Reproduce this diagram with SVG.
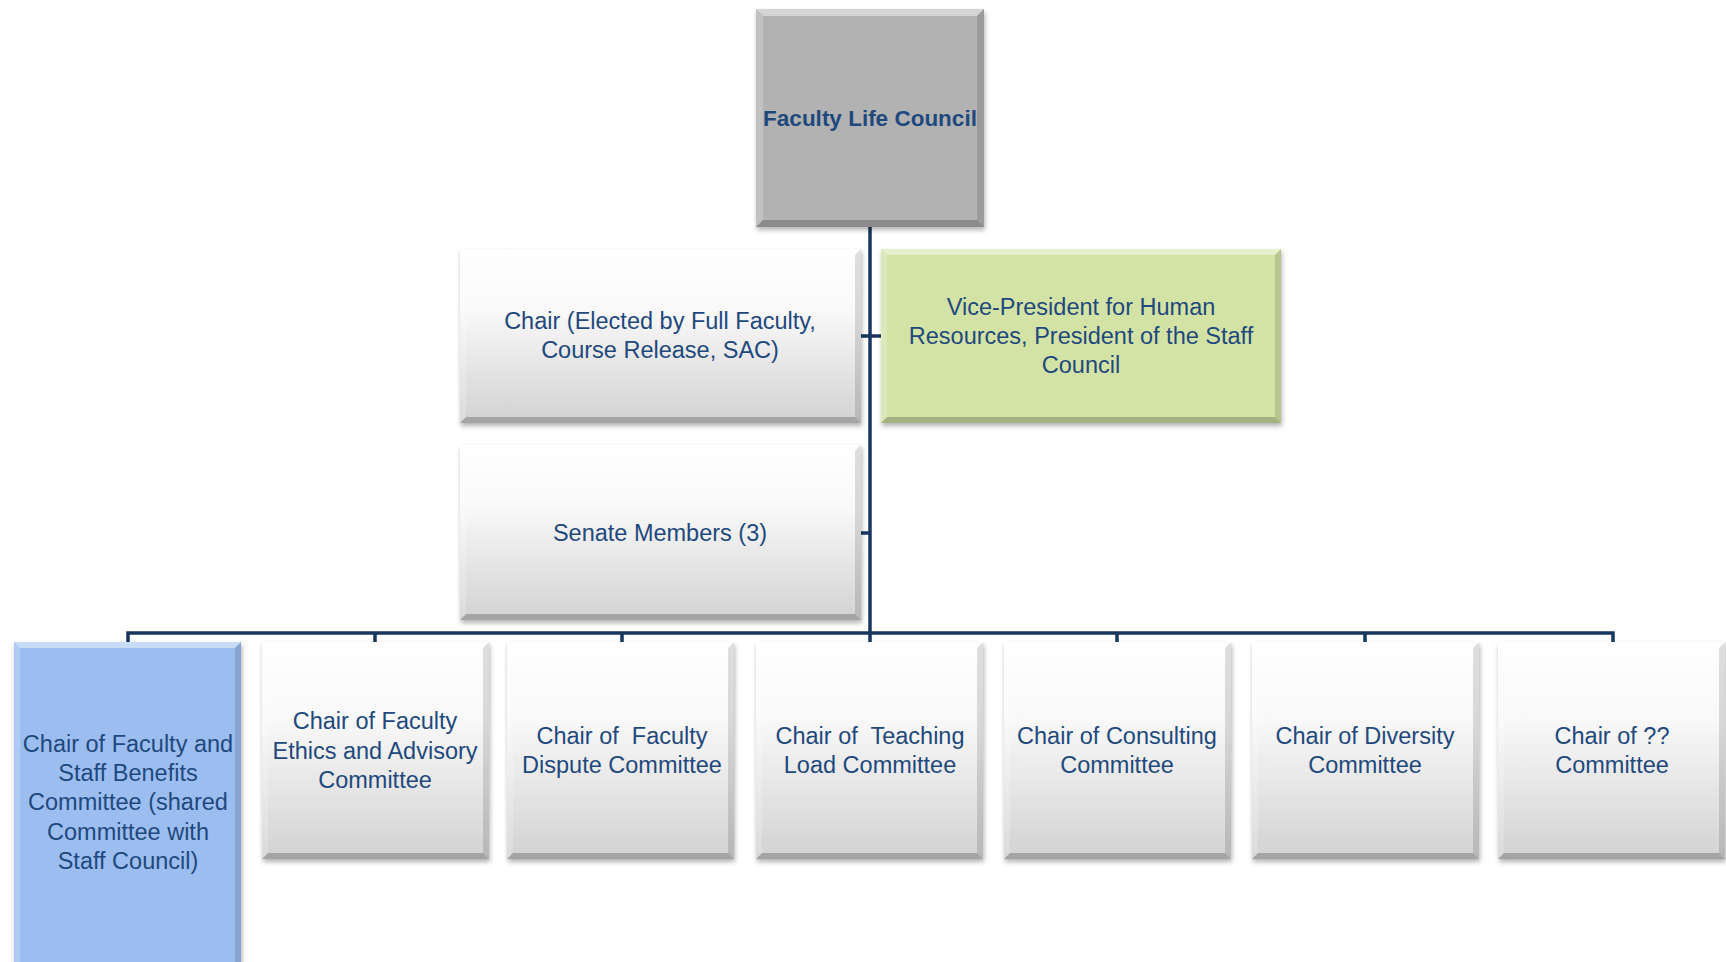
<svg xmlns="http://www.w3.org/2000/svg" width="1726" height="962" viewBox="0 0 1726 962">
<defs>
<linearGradient id="gGray" x1="0" y1="0" x2="0" y2="1">
<stop offset="0" stop-color="#ffffff"/>
<stop offset="0.35" stop-color="#f9f9f9"/>
<stop offset="1" stop-color="#d2d2d2"/>
</linearGradient>
<filter id="sh" x="-10%" y="-10%" width="120%" height="120%">
<feDropShadow dx="1" dy="3" stdDeviation="2.5" flood-color="#000" flood-opacity="0.3"/>
</filter>
</defs>
<style>
.gray{fill:url(#gGray)}
.flc{fill:#b2b2b2}
.vp{fill:#d3e3a5}
.blue{fill:#9bbdf0}
.bt{fill:#ffffff;opacity:.45}
.bb{fill:#000000;opacity:.22}
.bl{fill:#ffffff;opacity:.2}
.br{fill:#000000;opacity:.13}
.t{font-family:"Liberation Sans",Arial,sans-serif;font-size:23.5px;fill:#1f497d;text-anchor:middle}
.tb{font-family:"Liberation Sans",Arial,sans-serif;font-size:22.5px;font-weight:bold;fill:#1f497d;text-anchor:middle}
.c{fill:none;stroke:#17375e;stroke-width:3.5}
</style>
<rect width="1726" height="962" fill="#ffffff"/>

<g id="connectors">
<path class="c" d="M870 227 V635"/>
<path class="c" d="M128 642 V633 H1613 V642"/>
<path class="c" d="M375 633 V642 M622 633 V642 M870 633 V642 M1117 633 V642 M1365 633 V642"/>
<path class="c" d="M861 336 H881"/>
<path class="c" d="M861 533 H870"/>
</g>

<g id="faculty-life-council">
<rect class="flc" x="756" y="9" width="228" height="218" filter="url(#sh)"/>
<polygon class="bt" points="756,9 984,9 977,16 763,16"/>
<polygon class="bb" points="756,227 984,227 977,220 763,220"/>
<polygon class="bl" points="756,9 763,16 763,220 756,227"/>
<polygon class="br" points="984,9 977,16 977,220 984,227"/>
<text class="tb" x="870" y="126">Faculty Life Council</text>
</g>

<g id="chair">
<rect class="gray" x="460" y="249" width="401" height="174" filter="url(#sh)"/>
<polygon class="bt" points="460,249 861,249 855,255 466,255"/>
<polygon class="bb" points="460,423 861,423 855,417 466,417"/>
<polygon class="bl" points="460,249 466,255 466,417 460,423"/>
<polygon class="br" points="861,249 855,255 855,417 861,423"/>
<text class="t" x="660" y="329">Chair (Elected by Full Faculty,</text>
<text class="t" x="660" y="358">Course Release, SAC)</text>
</g>

<g id="vice-president">
<rect class="vp" x="881" y="249" width="400" height="174" filter="url(#sh)"/>
<polygon class="bt" points="881,249 1281,249 1275,255 887,255"/>
<polygon class="bb" points="881,423 1281,423 1275,417 887,417"/>
<polygon class="bl" points="881,249 887,255 887,417 881,423"/>
<polygon class="br" points="1281,249 1275,255 1275,417 1281,423"/>
<text class="t" x="1081" y="315">Vice-President for Human</text>
<text class="t" x="1081" y="344">Resources, President of the Staff</text>
<text class="t" x="1081" y="373">Council</text>
</g>

<g id="senate-members">
<rect class="gray" x="460" y="445" width="401" height="175" filter="url(#sh)"/>
<polygon class="bt" points="460,445 861,445 855,451 466,451"/>
<polygon class="bb" points="460,620 861,620 855,614 466,614"/>
<polygon class="bl" points="460,445 466,451 466,614 460,620"/>
<polygon class="br" points="861,445 855,451 855,614 861,620"/>
<text class="t" x="660" y="541">Senate Members (3)</text>
</g>

<g id="benefits-committee">
<rect class="blue" x="14" y="642" width="227" height="330" filter="url(#sh)"/>
<polygon class="bt" points="14,642 241,642 235,648 20,648"/>
<polygon class="bl" points="14,642 20,648 20,972 14,972"/>
<polygon class="br" points="241,642 235,648 235,972 241,972"/>
<text class="t" x="128" y="752">Chair of Faculty and</text>
<text class="t" x="128" y="781">Staff Benefits</text>
<text class="t" x="128" y="810">Committee (shared</text>
<text class="t" x="128" y="840">Committee with</text>
<text class="t" x="128" y="869">Staff Council)</text>
</g>

<g id="ethics-committee">
<rect class="gray" x="262" y="642" width="227" height="217" filter="url(#sh)"/>
<polygon class="bt" points="262,642 489,642 483,648 268,648"/>
<polygon class="bb" points="262,859 489,859 483,853 268,853"/>
<polygon class="bl" points="262,642 268,648 268,853 262,859"/>
<polygon class="br" points="489,642 483,648 483,853 489,859"/>
<text class="t" x="375" y="729">Chair of Faculty</text>
<text class="t" x="375" y="759">Ethics and Advisory</text>
<text class="t" x="375" y="788">Committee</text>
</g>

<g id="dispute-committee">
<rect class="gray" x="507" y="642" width="227" height="217" filter="url(#sh)"/>
<polygon class="bt" points="507,642 734,642 728,648 513,648"/>
<polygon class="bb" points="507,859 734,859 728,853 513,853"/>
<polygon class="bl" points="507,642 513,648 513,853 507,859"/>
<polygon class="br" points="734,642 728,648 728,853 734,859"/>
<text class="t" x="622" y="744" xml:space="preserve">Chair of  Faculty</text>
<text class="t" x="622" y="773">Dispute Committee</text>
</g>

<g id="teaching-load-committee">
<rect class="gray" x="756" y="642" width="227" height="217" filter="url(#sh)"/>
<polygon class="bt" points="756,642 983,642 977,648 762,648"/>
<polygon class="bb" points="756,859 983,859 977,853 762,853"/>
<polygon class="bl" points="756,642 762,648 762,853 756,859"/>
<polygon class="br" points="983,642 977,648 977,853 983,859"/>
<text class="t" x="870" y="744" xml:space="preserve">Chair of  Teaching</text>
<text class="t" x="870" y="773">Load Committee</text>
</g>

<g id="consulting-committee">
<rect class="gray" x="1004" y="642" width="227" height="217" filter="url(#sh)"/>
<polygon class="bt" points="1004,642 1231,642 1225,648 1010,648"/>
<polygon class="bb" points="1004,859 1231,859 1225,853 1010,853"/>
<polygon class="bl" points="1004,642 1010,648 1010,853 1004,859"/>
<polygon class="br" points="1231,642 1225,648 1225,853 1231,859"/>
<text class="t" x="1117" y="744">Chair of Consulting</text>
<text class="t" x="1117" y="773">Committee</text>
</g>

<g id="diversity-committee">
<rect class="gray" x="1252" y="642" width="227" height="217" filter="url(#sh)"/>
<polygon class="bt" points="1252,642 1479,642 1473,648 1258,648"/>
<polygon class="bb" points="1252,859 1479,859 1473,853 1258,853"/>
<polygon class="bl" points="1252,642 1258,648 1258,853 1252,859"/>
<polygon class="br" points="1479,642 1473,648 1473,853 1479,859"/>
<text class="t" x="1365" y="744">Chair of Diversity</text>
<text class="t" x="1365" y="773">Committee</text>
</g>

<g id="unnamed-committee">
<rect class="gray" x="1498" y="642" width="227" height="217" filter="url(#sh)"/>
<polygon class="bt" points="1498,642 1725,642 1719,648 1504,648"/>
<polygon class="bb" points="1498,859 1725,859 1719,853 1504,853"/>
<polygon class="bl" points="1498,642 1504,648 1504,853 1498,859"/>
<polygon class="br" points="1725,642 1719,648 1719,853 1725,859"/>
<text class="t" x="1612" y="744">Chair of ??</text>
<text class="t" x="1612" y="773">Committee</text>
</g>
</svg>
